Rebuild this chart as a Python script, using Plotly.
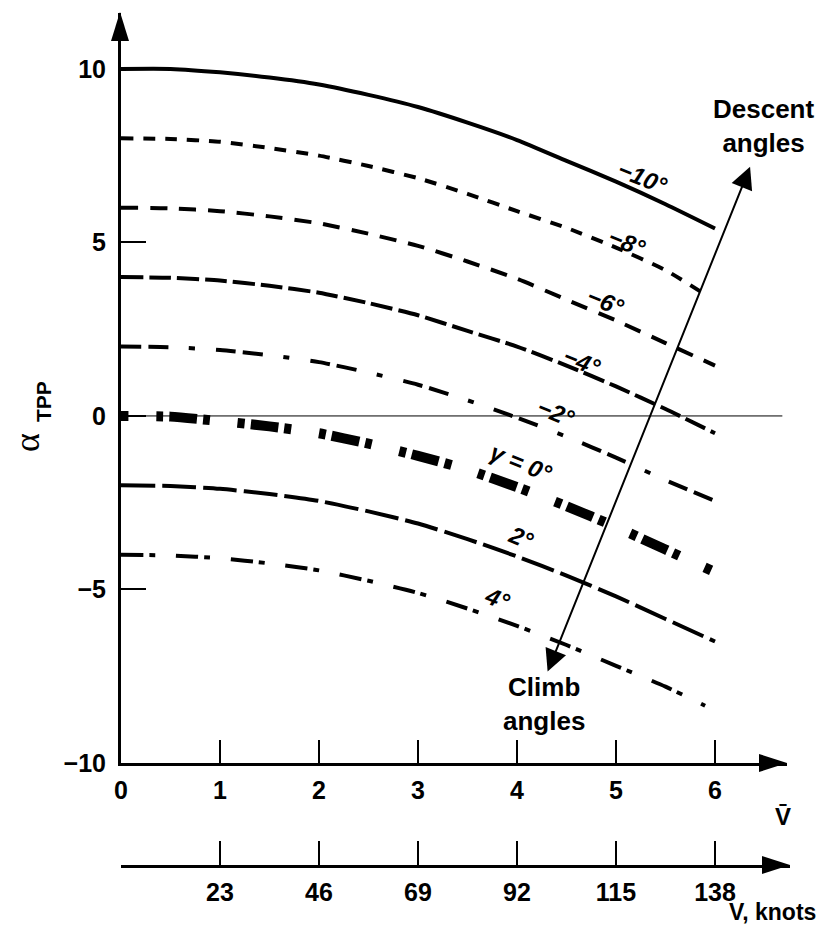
import plotly.graph_objects as go

# ---------------- data ----------------
V_BAR = [0, 0.5, 1, 1.5, 2, 2.5, 3, 3.5, 4, 4.5, 5, 5.5, 6]
V_BAR_SHORT = [0, 0.5, 1, 1.5, 2, 2.5, 3, 3.5, 4, 4.5, 5, 5.5, 5.9]

alpha_gamma_m10 = [10.0, 10.0, 9.9, 9.75, 9.55, 9.25, 8.9, 8.45, 7.95, 7.35, 6.75, 6.1, 5.4]
alpha_gamma_m8 = [8.0, 7.98, 7.9, 7.72, 7.5, 7.2, 6.85, 6.4, 5.9, 5.42, 4.85, 4.2, 3.5]
alpha_gamma_m6 = [6.0, 5.98, 5.9, 5.75, 5.55, 5.25, 4.9, 4.45, 3.95, 3.35, 2.75, 2.1, 1.45]
alpha_gamma_m4 = [4.0, 3.98, 3.9, 3.75, 3.55, 3.25, 2.9, 2.45, 2.0, 1.45, 0.85, 0.2, -0.5]
alpha_gamma_m2 = [2.0, 1.98, 1.9, 1.75, 1.55, 1.25, 0.9, 0.45, -0.05, -0.6, -1.2, -1.85, -2.45]
alpha_gamma_0 = [0.0, -0.02, -0.15, -0.3, -0.5, -0.8, -1.15, -1.55, -2.05, -2.6, -3.2, -3.85, -4.5]
alpha_gamma_p2 = [-2.0, -2.02, -2.1, -2.25, -2.45, -2.75, -3.1, -3.55, -4.05, -4.6, -5.2, -5.85, -6.5]
alpha_gamma_p4 = [-4.0, -4.02, -4.1, -4.25, -4.45, -4.75, -5.1, -5.55, -6.05, -6.6, -7.2, -7.8, -8.35]

CURVE_LABELS = ["−10°", "−8°", "−6°", "−4°", "−2°", "γ = 0°", "2°", "4°"]

X_TICKS = [0, 1, 2, 3, 4, 5, 6]
Y_TICKS = [-10, -5, 0, 5, 10]
Y_TICKTEXT = ["−10", "−5", "0", "5", "10"]
KNOT_TICKS = [0, 23, 46, 69, 92, 115, 138]
KNOT_TICKTEXT = ["", "23", "46", "69", "92", "115", "138"]

# ---------------- layout geometry (page pixels; body margin is 8px) ----------------
OFF = 8
W, H = 826 - OFF, 943 - 2 * OFF
PX_L, PX_R = 121, 787        # main x axis (page px)
PX_B, PX_T = 763, 13         # main y axis (page px)
X_MAX = 6.727
Y_MIN, Y_MAX = -10, 11.61
KN_R = 790
KN_Y = 865

FONT = "Liberation Sans, Arial, sans-serif"


def pxx(x):
    return (x - OFF) / W


def pxy(y):
    return 1 - (y - OFF) / H


def tri(points):
    p = [(pxx(a), pxy(b)) for a, b in points]
    return "M{},{} L{},{} L{},{} Z".format(p[0][0], p[0][1], p[1][0], p[1][1], p[2][0], p[2][1])


series = [
    (V_BAR, alpha_gamma_m10, "solid", 4),
    (V_BAR_SHORT, alpha_gamma_m8, "12px,10px", 4),
    (V_BAR, alpha_gamma_m6, "17px,12px", 4),
    (V_BAR, alpha_gamma_m4, "22px,6px", 4),
    (V_BAR, alpha_gamma_m2, "20px,7px,20px,21px,6px,21px", 4),
    (V_BAR, alpha_gamma_0, "7px,28px,7px,6px,28px,6px", 10),
    (V_BAR, alpha_gamma_p2, "34px,7px", 4),
    (V_BAR_SHORT, alpha_gamma_p4, "22px,6px,6px,21px", 4),
]

fig = go.Figure()
for xs, ys, dash, width in series:
    fig.add_trace(go.Scatter(
        x=xs, y=ys, mode="lines",
        line=dict(color="black", width=width, dash=dash, shape="spline", smoothing=0.6),
        showlegend=False, hoverinfo="skip"))

# invisible trace that carries the knots axis
fig.add_trace(go.Scatter(x=KNOT_TICKS, y=[0.5] * len(KNOT_TICKS), xaxis="x2", yaxis="y2",
                         mode="markers", marker=dict(opacity=0), showlegend=False,
                         hoverinfo="skip"))

shapes = [
    dict(type="line", xref="x", yref="y", x0=0, x1=6.68, y0=0, y1=0,
         line=dict(color="black", width=1), layer="below"),
    dict(type="path", xref="paper", yref="paper",
         path=tri([(PX_L - 1, 12), (PX_L - 10, 41), (PX_L + 8, 41)]),
         fillcolor="black", line=dict(width=0)),
    dict(type="path", xref="paper", yref="paper",
         path=tri([(PX_R, PX_B), (PX_R - 28, PX_B - 9), (PX_R - 28, PX_B + 9)]),
         fillcolor="black", line=dict(width=0)),
    dict(type="path", xref="paper", yref="paper",
         path=tri([(KN_R, KN_Y), (KN_R - 28, KN_Y - 9), (KN_R - 28, KN_Y + 9)]),
         fillcolor="black", line=dict(width=0)),
]

ann = []
label_pos = [(5.27, 6.86), (5.11, 4.99), (4.89, 3.31), (4.65, 1.56),
             (4.39, 0.09), (4.04, -1.35), (4.04, -3.49), (3.80, -5.27)]
for txt, (lx, ly) in zip(CURVE_LABELS, label_pos):
    ann.append(dict(x=lx, y=ly, xref="x", yref="y", text="<b><i>" + txt + "</i></b>",
                    showarrow=False, textangle=22,
                    font=dict(family=FONT, size=24, color="black")))

# descent / climb double arrow
ann.append(dict(x=6.354, y=7.18, ax=4.303, ay=-7.41, xref="x", yref="y", axref="x", ayref="y",
                text="", showarrow=True, arrowhead=2, startarrowhead=2, arrowside="end+start",
                arrowsize=2.2, startarrowsize=2.2, arrowwidth=2, arrowcolor="black",
                standoff=0, startstandoff=0))


def txt_ann(text, x, y, size, family=FONT, angle=0, **kw):
    d = dict(x=pxx(x), y=pxy(y), xref="paper", yref="paper", text=text, showarrow=False,
             xanchor="center", yanchor="middle", textangle=angle,
             font=dict(family=family, size=size, color="black"))
    d.update(kw)
    return d


ann += [
    txt_ann("<b>Descent<br>angles</b>", 763, 126, 26),
    txt_ann("<b>Climb<br>angles</b>", 544, 704, 26),
    txt_ann("<b>V̄</b>", 783, 816, 24),
    txt_ann("<b>V, knots</b>", 772, 912, 23),
    txt_ann("α", 27, 443, 36, family="Liberation Serif, Times New Roman, serif", angle=-90,
            height=30, borderpad=0),
    txt_ann("<b>TPP</b>", 43, 402, 21, angle=-90),
]

tickfont = dict(family=FONT, size=25, color="black", weight="bold")

fig.update_layout(
    width=W, height=H, template="none",
    margin=dict(l=0, r=0, t=0, b=0),
    paper_bgcolor="white", plot_bgcolor="white",
    showlegend=False,
    xaxis=dict(domain=[pxx(PX_L), pxx(PX_R)], range=[0, X_MAX], anchor="y",
               showline=True, linewidth=3, linecolor="black",
               ticks="inside", ticklen=23, tickwidth=2, tickcolor="black",
               tickmode="array", tickvals=X_TICKS, ticktext=[str(v) for v in X_TICKS],
               tickfont=tickfont, ticklabelstandoff=3,
               showgrid=False, zeroline=False, automargin=False, fixedrange=True),
    yaxis=dict(domain=[pxy(PX_B), pxy(PX_T)], range=[Y_MIN, Y_MAX], anchor="x",
               showline=True, linewidth=3, linecolor="black",
               ticks="inside", ticklen=25, tickwidth=2, tickcolor="black",
               tickmode="array", tickvals=Y_TICKS, ticktext=Y_TICKTEXT,
               tickfont=tickfont, ticklabelstandoff=7,
               showgrid=False, zeroline=False, automargin=False, fixedrange=True),
    xaxis2=dict(domain=[pxx(PX_L), pxx(KN_R)], range=[0, (KN_R - PX_L) / 99.0 * 23], anchor="y2",
                showline=True, linewidth=2.5, linecolor="black",
                ticks="inside", ticklen=24, tickwidth=2, tickcolor="black",
                tickmode="array", tickvals=KNOT_TICKS, ticktext=KNOT_TICKTEXT,
                tickfont=tickfont, ticklabelstandoff=3,
                showgrid=False, zeroline=False, automargin=False, fixedrange=True),
    yaxis2=dict(domain=[pxy(KN_Y), pxy(KN_Y - 30)], range=[0, 1], anchor="x2",
                visible=False, fixedrange=True),
    shapes=shapes,
    annotations=ann,
)

fig.write_html("out.html")
